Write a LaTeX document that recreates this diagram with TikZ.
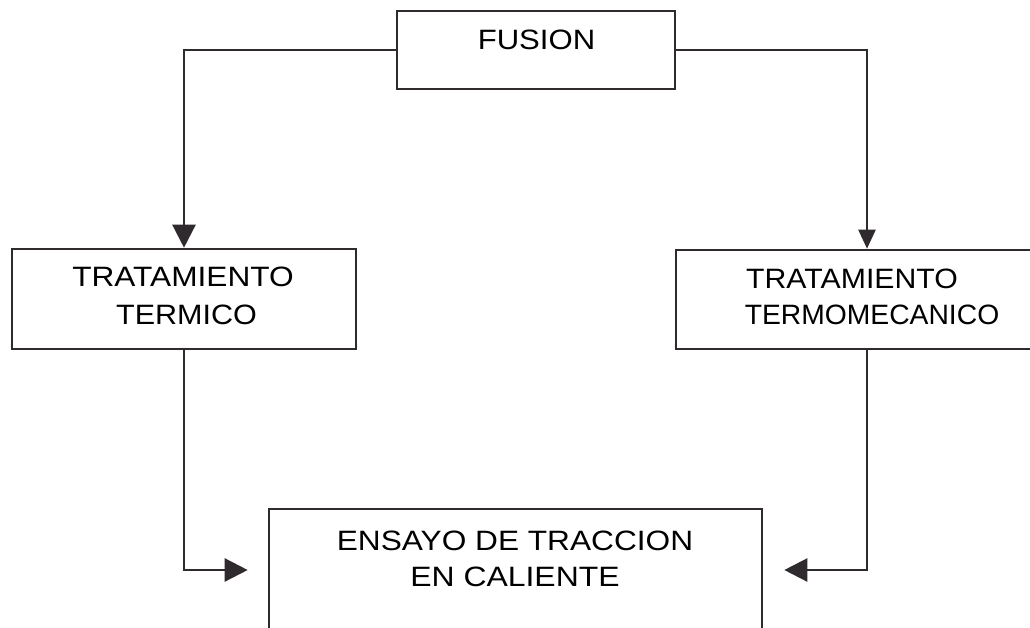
\documentclass[tikz,border=0pt]{standalone}
\usepackage{fontspec}
\setmainfont{Liberation Sans}
\usepackage{graphicx}
\usetikzlibrary{arrows.meta}
\definecolor{linec}{HTML}{2E2A2E}
\begin{document}
\begin{tikzpicture}[x=1pt,y=-1pt,
  box/.style={draw=linec, line width=2.6pt, inner sep=0pt},
  lbl/.style={inner sep=0pt, anchor=base, font=\fontsize{28}{34}\selectfont, text=black},
  conn/.style={draw=linec, line width=2.4pt},
  arr/.style={conn, -{Triangle[length=23pt,width=23pt]}},
  arrs/.style={conn, -{Triangle[length=19pt,width=17pt]}}]
\useasboundingbox (0,0) rectangle (1030,628);
\fill[white] (0,0) rectangle (1030,628);
\clip (0,0) rectangle (1030,628);
% boxes
\node[box, minimum width=278pt, minimum height=78pt] (fusion) at (536,50) {};
\node[box, minimum width=344pt, minimum height=100pt] (termico) at (184,299) {};
\node[box, minimum width=382pt, minimum height=99pt] (termo) at (867,299.5) {};
\node[box, minimum width=493pt, minimum height=122pt] (ensayo) at (515.5,570) {};
% texts
\node[lbl] (t1) at (536.5,50) {\scalebox{1.11}[1]{FUSION}};
\node[lbl] (t2) at (183,287) {\scalebox{1.13}[1]{TRATAMIENTO}};
\node[lbl] (t3) at (186.5,324) {\scalebox{1.09}[1]{TERMICO}};
\node[lbl] (t4) at (852,288) {\scalebox{1.08}[1]{TRATAMIENTO}};
\node[lbl] (t5) at (872,324) {\scalebox{1.01}[1]{TERMOMECANICO}};
\node[lbl] (t6) at (515,550) {\scalebox{1.13}[1]{ENSAYO DE TRACCION}};
\node[lbl] (t7) at (515,586) {\scalebox{1.14}[1]{EN CALIENTE}};
% connectors
\draw[arr] (fusion.west) -| (termico.north);
\draw[arrs] (fusion.east) -| (termo.north);
\draw[arr, shorten >=20pt] (termico.south) |- (ensayo.west);
\draw[arr, shorten >=21pt] (termo.south) |- (ensayo.east);
\end{tikzpicture}
\end{document}
